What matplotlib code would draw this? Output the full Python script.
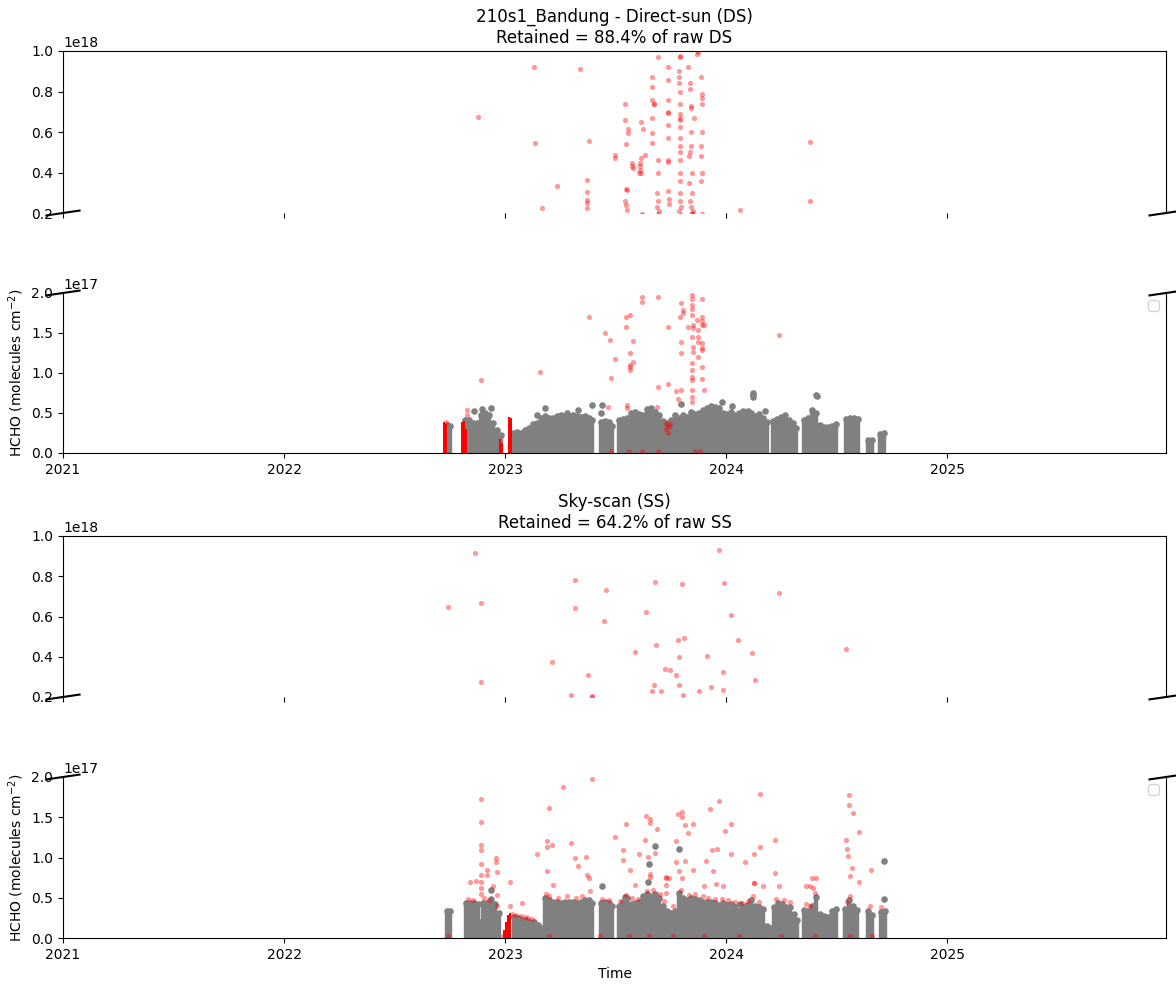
import numpy as np
import matplotlib
matplotlib.use("Agg")
import matplotlib.pyplot as plt

# ---- Direct-sun (DS) -------------------------------------------------------
# dense retained cloud: column positions (decimal year) and top of cloud (1e17)
ds_cloud_x = np.array([
    2022.738, 2022.751,
    2022.819, 2022.837, 2022.855, 2022.873, 2022.891, 2022.910, 2022.928, 2022.946, 2022.964, 2022.982,
    2023.036, 2023.054, 2023.072, 2023.090, 2023.109, 2023.127, 2023.145, 2023.163, 2023.181, 2023.199,
    2023.217, 2023.235, 2023.253, 2023.271, 2023.290, 2023.308, 2023.326, 2023.344, 2023.362, 2023.380,
    2023.394,
    2023.434, 2023.452, 2023.471, 2023.484,
    2023.516, 2023.534, 2023.552,
    2023.570, 2023.588, 2023.606, 2023.624, 2023.643, 2023.661, 2023.679, 2023.697, 2023.715, 2023.733,
    2023.751, 2023.769, 2023.787, 2023.805, 2023.824, 2023.842, 2023.860, 2023.878, 2023.896, 2023.914,
    2023.932, 2023.950, 2023.968, 2023.986, 2024.005, 2024.023, 2024.041, 2024.059, 2024.077, 2024.095,
    2024.113, 2024.131, 2024.149, 2024.167, 2024.186,
    2024.213, 2024.231, 2024.249, 2024.267, 2024.285, 2024.303, 2024.317,
    2024.353, 2024.371, 2024.389, 2024.407, 2024.425, 2024.443, 2024.462, 2024.480, 2024.498,
    2024.543, 2024.561, 2024.579, 2024.597,
    2024.643, 2024.661,
    2024.697, 2024.715])
ds_cloud_top = np.array([
    0.35, 0.34,
    0.41, 0.41, 0.375, 0.375, 0.475, 0.50, 0.475, 0.375, 0.29, 0.225,
    0.25, 0.26, 0.25, 0.29, 0.31, 0.36, 0.375, 0.44, 0.46, 0.44,
    0.44, 0.46, 0.475, 0.45, 0.46, 0.475, 0.46, 0.45, 0.46, 0.44,
    0.41,
    0.39, 0.40, 0.39, 0.34,
    0.41, 0.425, 0.44,
    0.50, 0.51, 0.49, 0.475, 0.55, 0.56, 0.51, 0.475, 0.40, 0.375,
    0.41, 0.475, 0.44, 0.475, 0.45, 0.51, 0.49, 0.50, 0.54, 0.56,
    0.59, 0.575, 0.56, 0.50, 0.49, 0.51, 0.475, 0.50, 0.46, 0.49,
    0.50, 0.46, 0.49, 0.44, 0.39,
    0.40, 0.425, 0.45, 0.475, 0.41, 0.375, 0.31,
    0.41, 0.44, 0.54, 0.50, 0.35, 0.325, 0.325, 0.34, 0.36,
    0.425, 0.44, 0.44, 0.425,
    0.16, 0.16,
    0.24, 0.25])

# retained points above the cloud
ds_grey_x = [2022.860, 2022.896, 2022.937, 2022.901, 2023.181, 2023.145, 2023.280, 2023.330,
             2023.394, 2023.439, 2023.434, 2023.797, 2023.982, 2024.027, 2024.077, 2024.100,
             2024.177, 2024.122, 2024.122, 2024.122, 2024.407, 2024.412]
ds_grey_y = [0.525, 0.55, 0.56, 0.50, 0.56, 0.475, 0.50, 0.54,
             0.60, 0.60, 0.50, 0.61, 0.64, 0.59, 0.525, 0.525,
             0.525, 0.75, 0.72, 0.70, 0.725, 0.71]

# dense removed columns (1e17)
ds_redbar_x = [2022.724, 2022.733, 2022.805, 2022.814, 2022.823, 2022.978, 2022.987, 2023.018, 2023.027]
ds_redbar_top = [0.39, 0.36, 0.39, 0.40, 0.30, 0.18, 0.12, 0.45, 0.44]

# removed (filtered) points, 1e17
ds_red_x = [
    2022.878, 2023.131, 2023.339, 2023.136, 2023.235, 2023.167, 2023.380, 2023.371, 2023.371, 2023.371,
    2023.371, 2023.371, 2023.543, 2023.543, 2023.557, 2023.557, 2023.548, 2023.498, 2023.498,
    2023.575, 2023.575, 2023.580, 2023.611, 2023.611, 2023.611, 2023.606,
    2023.548, 2023.552, 2023.543, 2023.548, 2023.552,
    2023.615, 2023.624, 2023.633, 2023.615, 2023.615,
    2023.665, 2023.665, 2023.665, 2023.674, 2023.674, 2023.665, 2023.665, 2023.665,
    2023.692, 2023.692, 2023.692, 2023.688, 2023.692, 2023.688, 2023.697,
    2023.738, 2023.738, 2023.738, 2023.738, 2023.738, 2023.738, 2023.738, 2023.738, 2023.738, 2023.738,
    2023.742, 2023.742,
    2023.792, 2023.792, 2023.788, 2023.788, 2023.788, 2023.792, 2023.792, 2023.792, 2023.792, 2023.792,
    2023.792, 2023.792, 2023.792, 2023.792, 2023.792, 2023.792, 2023.792, 2023.792, 2023.792, 2023.797,
    2023.787,
    2023.869, 2023.874, 2023.828, 2023.837, 2023.837, 2023.842, 2023.842, 2023.855, 2023.842, 2023.842,
    2023.837, 2023.833, 2023.846, 2023.833, 2023.846, 2023.837, 2023.842, 2023.851,
    2023.887, 2023.892, 2023.892, 2023.892, 2023.892, 2023.887, 2023.887, 2023.892, 2023.887,
    2024.063, 2024.380, 2024.380,
    # below 2e17
    2022.890, 2023.158, 2023.381, 2023.452, 2023.475, 2023.499, 2023.477, 2023.549, 2023.549, 2023.566,
    2023.578, 2023.578, 2023.563, 2023.563, 2023.563, 2023.563, 2023.618, 2023.618, 2023.691, 2023.691,
    2023.739, 2023.739, 2023.796, 2023.796, 2023.796, 2023.796, 2023.807, 2023.807, 2023.792, 2023.774,
    2023.784,
    2023.846, 2023.846, 2023.846, 2023.846, 2023.846, 2023.846, 2023.846, 2023.846, 2023.846, 2023.846,
    2023.846, 2023.846, 2023.846, 2023.849, 2023.849, 2023.849, 2023.849, 2023.829, 2023.867,
    2023.872, 2023.872, 2023.872, 2023.872,
    2023.890, 2023.890, 2023.890, 2023.890, 2023.890, 2023.890, 2023.890, 2023.890, 2023.890,
    2023.902, 2023.902, 2024.240, 2023.553, 2023.553, 2023.686, 2023.467, 2022.827, 2022.827, 2022.733,
    2023.726, 2023.733, 2023.740, 2023.729, 2023.737, 2023.744,
    2023.480, 2023.560, 2023.691, 2023.620, 2023.860, 2023.880]
ds_red_y = [
    6.74, 9.21, 9.11, 5.46, 3.35, 2.25, 5.56, 3.63, 3.04, 2.64,
    2.49, 2.25, 7.38, 6.59, 6.15, 5.95, 5.40, 4.86, 4.70,
    4.45, 4.30, 4.20, 4.45, 4.30, 4.10, 4.00,
    3.20, 3.15, 2.60, 2.40, 2.15,
    6.50, 6.15, 4.85, 4.70, 4.00,
    8.70, 8.20, 7.60, 7.40, 7.38, 6.70, 5.95, 5.45,
    9.70, 4.60, 4.00, 3.00, 2.60, 2.30, 2.10,
    9.20, 8.56, 7.60, 7.00, 6.95, 6.35, 5.70, 4.60, 4.50, 3.10,
    2.70, 2.45,
    9.75, 9.70, 9.00, 8.70, 8.40, 8.00, 7.40, 6.90, 6.70, 6.60,
    6.25, 5.70, 5.30, 5.00, 4.60, 4.00, 3.60, 3.00, 2.60, 2.30,
    2.10,
    9.85, 9.95, 9.20, 8.40, 8.10, 7.30, 7.20, 6.70, 6.00, 5.30,
    5.00, 4.80, 4.00, 3.50, 3.00, 2.60, 2.30, 2.10,
    8.70, 7.90, 7.70, 7.40, 6.00, 5.30, 4.80, 4.00, 3.60,
    2.15, 5.50, 2.60,
    0.91, 1.01, 1.70, 1.50, 1.41, 1.17, 0.94, 1.70, 1.57, 1.72,
    1.40, 1.14, 1.25, 1.10, 1.07, 1.04, 1.95, 1.89, 1.95, 0.83,
    1.57, 0.86, 1.88, 1.39, 1.25, 0.79, 1.79, 1.75, 1.70, 0.77,
    0.67,
    1.98, 1.93, 1.85, 1.80, 1.72, 1.45, 1.12, 1.04, 0.95, 0.91,
    0.79, 0.70, 0.64, 1.60, 1.56, 1.32, 1.26, 1.58, 1.66,
    1.54, 1.45, 1.39, 1.20,
    1.93, 1.70, 1.65, 1.60, 1.37, 1.31, 1.29, 1.08, 0.92,
    1.60, 0.79, 1.47, 0.60, 0.56, 0.58, 0.58, 0.54, 0.48, 0.39,
    0.38, 0.35, 0.33, 0.30, 0.25, 0.36,
    0.03, 0.02, 0.02, 0.02, 0.03, 0.02]

# ---- Sky-scan (SS) ---------------------------------------------------------
ss_cloud_x = np.array([
    2022.738, 2022.751,
    2022.824, 2022.842, 2022.860, 2022.878, 2022.882, 2022.900, 2022.919, 2022.937, 2022.955, 2022.973,
    2023.041, 2023.059, 2023.077, 2023.095, 2023.113, 2023.131, 2023.149, 2023.163,
    2023.181, 2023.199, 2023.217, 2023.235, 2023.253, 2023.271, 2023.290, 2023.308, 2023.326, 2023.344,
    2023.362, 2023.380, 2023.394,
    2023.434, 2023.452, 2023.471, 2023.484,
    2023.516, 2023.534, 2023.552, 2023.570, 2023.588, 2023.606, 2023.624, 2023.643, 2023.661, 2023.679,
    2023.697, 2023.715, 2023.733, 2023.751, 2023.769, 2023.787, 2023.805, 2023.824, 2023.842, 2023.860,
    2023.878, 2023.896, 2023.914, 2023.932, 2023.950, 2023.968, 2023.986, 2024.005, 2024.023, 2024.041,
    2024.059, 2024.077, 2024.095, 2024.113, 2024.131, 2024.149, 2024.167, 2024.186, 2024.199, 2024.217,
    2024.235, 2024.253, 2024.271, 2024.290, 2024.308, 2024.321,
    2024.353, 2024.371, 2024.389, 2024.407, 2024.425, 2024.443, 2024.462, 2024.480, 2024.498,
    2024.538, 2024.557, 2024.575, 2024.593,
    2024.643, 2024.661,
    2024.701, 2024.719])
ss_cloud_top = np.array([
    0.33, 0.33,
    0.43, 0.43, 0.43, 0.42, 0.20, 0.43, 0.43, 0.43, 0.42, 0.31,
    0.26, 0.25, 0.22, 0.22, 0.20, 0.20, 0.16, 0.13,
    0.50, 0.47, 0.45, 0.45, 0.44, 0.45, 0.45, 0.45, 0.44, 0.45,
    0.47, 0.47, 0.44,
    0.43, 0.45, 0.43, 0.40,
    0.40, 0.45, 0.50, 0.42, 0.43, 0.45, 0.52, 0.55, 0.52, 0.55,
    0.50, 0.40, 0.34, 0.31, 0.33, 0.56, 0.50, 0.47, 0.50, 0.48,
    0.47, 0.45, 0.45, 0.45, 0.43, 0.41, 0.43, 0.41, 0.42, 0.39,
    0.34, 0.38, 0.41, 0.47, 0.40, 0.38, 0.36, 0.15, 0.12, 0.39,
    0.43, 0.42, 0.39, 0.39, 0.30, 0.22,
    0.35, 0.33, 0.40, 0.51, 0.30, 0.27, 0.26, 0.33, 0.36,
    0.36, 0.47, 0.40, 0.35,
    0.33, 0.28,
    0.32, 0.33])

ss_grey_x = [2022.937, 2022.937, 2023.439, 2023.680, 2023.652, 2023.648, 2023.787, 2024.063,
             2024.715, 2024.715, 2023.543]
ss_grey_y = [0.60, 0.48, 0.65, 1.14, 0.92, 0.69, 1.10, 0.42,
             0.96, 0.48, 0.51]

ss_redbar_x = [2022.997, 2023.006, 2023.015, 2023.024]
ss_redbar_top = [0.10, 0.20, 0.28, 0.31]

ss_red_x = [
    # 2e17 .. 1e18
    2022.741, 2022.866, 2022.890, 2022.890, 2023.213, 2023.315, 2023.315, 2023.300, 2023.377, 2023.391,
    2023.458, 2023.448, 2023.587, 2023.636, 2023.680, 2023.684, 2023.674, 2023.664, 2023.707, 2023.725,
    2023.747, 2023.771, 2023.783, 2023.808, 2023.787, 2023.787, 2023.801, 2023.803, 2023.876, 2023.914,
    2023.932, 2023.968, 2023.986, 2023.991, 2024.023, 2024.054, 2024.118, 2024.131, 2024.240, 2024.543,
    2023.986,
    # below 2e17
    2022.891, 2022.891, 2022.891, 2022.891, 2022.891, 2022.891, 2022.891, 2022.891, 2022.891,
    2022.842, 2022.867, 2022.920, 2022.920, 2022.947, 2022.958, 2022.958, 2022.962, 2022.962,
    2023.020, 2023.020, 2023.076, 2023.146, 2023.189, 2023.189, 2023.189, 2023.198, 2023.213, 2023.216,
    2023.264, 2023.300, 2023.317, 2023.332, 2023.365, 2023.370, 2023.381, 2023.385, 2023.392,
    2023.499, 2023.533, 2023.535, 2023.549, 2023.566, 2023.588, 2023.606, 2023.633, 2023.638,
    2023.656, 2023.656, 2023.656, 2023.656, 2023.648, 2023.679, 2023.686, 2023.729, 2023.729,
    2023.771, 2023.781, 2023.799, 2023.799, 2023.799, 2023.814, 2023.814, 2023.827, 2023.849,
    2023.772, 2023.789, 2023.928, 2023.970, 2023.935, 2023.958, 2023.908, 2023.942, 2023.995,
    2024.023, 2024.023, 2023.900, 2023.955, 2023.985, 2024.086, 2024.124, 2024.151, 2024.154,
    2024.127, 2024.222, 2024.219, 2024.240, 2024.554, 2024.554, 2024.572, 2024.599, 2024.543,
    2024.549, 2024.550, 2024.569, 2024.561, 2024.599, 2024.655, 2024.362, 2024.395, 2024.406,
    2023.730, 2023.730, 2023.743, 2023.848, 2024.124, 2024.167, 2024.379, 2024.388,
    # fringe just above the cloud
    2022.830, 2022.855, 2022.905, 2022.925, 2022.965, 2023.030, 2023.050, 2023.070, 2023.090, 2023.105,
    2023.120, 2023.185, 2023.200, 2023.240, 2023.280, 2023.320, 2023.350, 2023.440, 2023.470, 2023.520,
    2023.545, 2023.575, 2023.600, 2023.640, 2023.670, 2023.700, 2023.720, 2023.760, 2023.795, 2023.830,
    2023.860, 2023.895, 2023.920, 2023.950, 2023.980, 2024.010, 2024.040, 2024.070, 2024.100, 2024.120,
    2024.150, 2024.225, 2024.260, 2024.290, 2024.360, 2024.380, 2024.400, 2024.545, 2024.560, 2024.650,
    2024.700,
    # near zero
    2022.740, 2022.990, 2023.200, 2023.430, 2023.560, 2023.650, 2023.760, 2023.900, 2024.060, 2024.250,
    2024.400, 2024.560, 2024.660]
ss_red_y = [
    6.49, 9.14, 6.66, 2.73, 3.72, 7.81, 6.42, 2.10, 3.09, 2.06,
    7.30, 5.78, 4.25, 6.22, 7.71, 4.57, 2.58, 2.31, 2.31, 3.38,
    3.34, 3.09, 4.83, 4.95, 3.99, 2.61, 7.63, 2.10, 2.30, 4.04,
    2.50, 9.30, 2.35, 7.66, 6.07, 4.83, 4.18, 2.84, 7.17, 4.38,
    3.25,
    1.73, 1.44, 1.16, 1.09, 0.92, 0.78, 0.70, 0.62, 0.55,
    0.70, 0.71, 0.84, 0.78, 0.64, 0.99, 0.94, 0.82, 0.53,
    0.70, 0.40, 0.44, 1.04, 1.20, 1.13, 0.83, 1.61, 1.16, 0.66,
    1.87, 1.18, 0.99, 0.89, 1.01, 0.78, 0.74, 0.58, 1.98,
    1.25, 1.09, 0.97, 1.42, 0.84, 0.66, 1.04, 1.22, 1.51,
    1.48, 1.43, 0.80, 0.76, 1.01, 1.06, 1.36, 0.74, 0.56,
    1.21, 1.54, 1.56, 1.50, 0.74, 1.40, 0.96, 1.31, 1.42,
    0.95, 0.83, 1.60, 1.70, 1.09, 1.11, 0.96, 0.83, 1.33,
    1.42, 1.04, 0.65, 0.67, 0.64, 0.94, 1.04, 1.13, 1.79,
    0.68, 1.22, 0.81, 0.64, 1.78, 1.65, 1.55, 1.32, 1.22,
    1.10, 1.02, 0.87, 0.77, 0.70, 0.84, 0.64, 0.62, 0.74,
    0.76, 0.66, 0.75, 0.84, 0.68, 0.64, 0.64, 0.74,
    0.48, 0.47, 0.50, 0.47, 0.40, 0.30, 0.29, 0.27, 0.26, 0.25,
    0.23, 0.55, 0.52, 0.50, 0.52, 0.50, 0.52, 0.49, 0.47, 0.46,
    0.53, 0.50, 0.49, 0.58, 0.60, 0.55, 0.46, 0.40, 0.60, 0.53,
    0.55, 0.52, 0.50, 0.49, 0.48, 0.47, 0.45, 0.43, 0.46, 0.52,
    0.45, 0.48, 0.47, 0.45, 0.42, 0.40, 0.56, 0.45, 0.52, 0.40,
    0.38,
    0.02, 0.03, 0.02, 0.02, 0.03, 0.02, 0.02, 0.02, 0.02, 0.03,
    0.02, 0.03, 0.02]

year_ticks = [2021, 2022, 2023, 2024, 2025]
ds_title = "210s1_Bandung - Direct-sun (DS)\nRetained = 88.4% of raw DS"
ss_title = "Sky-scan (SS)\nRetained = 64.2% of raw SS"
ylabel = "HCHO (molecules cm$^{-2}$)"

SCALE = 1e17
col_w = 0.0185  # about one column of points (years)


def draw_panel(ax_up, ax_lo, cloud_x, cloud_top, grey_x, grey_y, rb_x, rb_top, red_x, red_y):
    for ax in (ax_up, ax_lo):
        ax.bar(cloud_x, np.asarray(cloud_top) * SCALE, width=col_w, color="grey",
               edgecolor="grey", linewidth=0.3)
        ax.scatter(cloud_x, np.asarray(cloud_top) * SCALE, s=14, color="grey")
        ax.scatter(grey_x, np.asarray(grey_y) * SCALE, s=14, color="grey")
        ax.bar(rb_x, np.asarray(rb_top) * SCALE, width=0.009, color="red", linewidth=0)
        ax.scatter(red_x, np.asarray(red_y) * SCALE, s=14, color="red", alpha=0.4, linewidths=0)
        ax.set_xlim(2021, 2025.99)
        ax.set_xticks(year_ticks)
        ax.set_xticklabels([str(y) for y in year_ticks])

    ax_up.set_ylim(2e17, 1e18)
    ax_lo.set_ylim(0, 2e17)
    ax_lo.set_yticks([0, 0.5e17, 1e17, 1.5e17, 2e17])

    # broken axis look
    ax_up.spines["bottom"].set_visible(False)
    ax_lo.spines["top"].set_visible(False)
    ax_up.tick_params(labelbottom=False)
    ax_lo.xaxis.tick_bottom()

    d = 0.015
    kw = dict(transform=ax_up.transAxes, color="k", clip_on=False)
    ax_up.plot((-d, +d), (-d, +d), **kw)
    ax_up.plot((1 - d, 1 + d), (-d, +d), **kw)
    kw.update(transform=ax_lo.transAxes)
    ax_lo.plot((-d, +d), (1 - d, 1 + d), **kw)
    ax_lo.plot((1 - d, 1 + d), (1 - d, 1 + d), **kw)

    ax_lo.set_ylabel(ylabel)
    ax_lo.legend(handles=[], loc="upper right")


fig = plt.figure(figsize=(11.76, 9.86), dpi=100)
left, width = 63 / 1176, 1103 / 1176
ax1 = fig.add_axes([left, 1 - 213 / 986, width, 162 / 986])
ax2 = fig.add_axes([left, 1 - 453 / 986, width, 160 / 986])
ax3 = fig.add_axes([left, 1 - 697 / 986, width, 161 / 986])
ax4 = fig.add_axes([left, 1 - 938 / 986, width, 161 / 986])

draw_panel(ax1, ax2, ds_cloud_x, ds_cloud_top, ds_grey_x, ds_grey_y,
           ds_redbar_x, ds_redbar_top, ds_red_x, ds_red_y)
draw_panel(ax3, ax4, ss_cloud_x, ss_cloud_top, ss_grey_x, ss_grey_y,
           ss_redbar_x, ss_redbar_top, ss_red_x, ss_red_y)

ax1.set_title(ds_title)
ax3.set_title(ss_title)
ax4.set_xlabel("Time")

fig.savefig("out.png", dpi=100)
